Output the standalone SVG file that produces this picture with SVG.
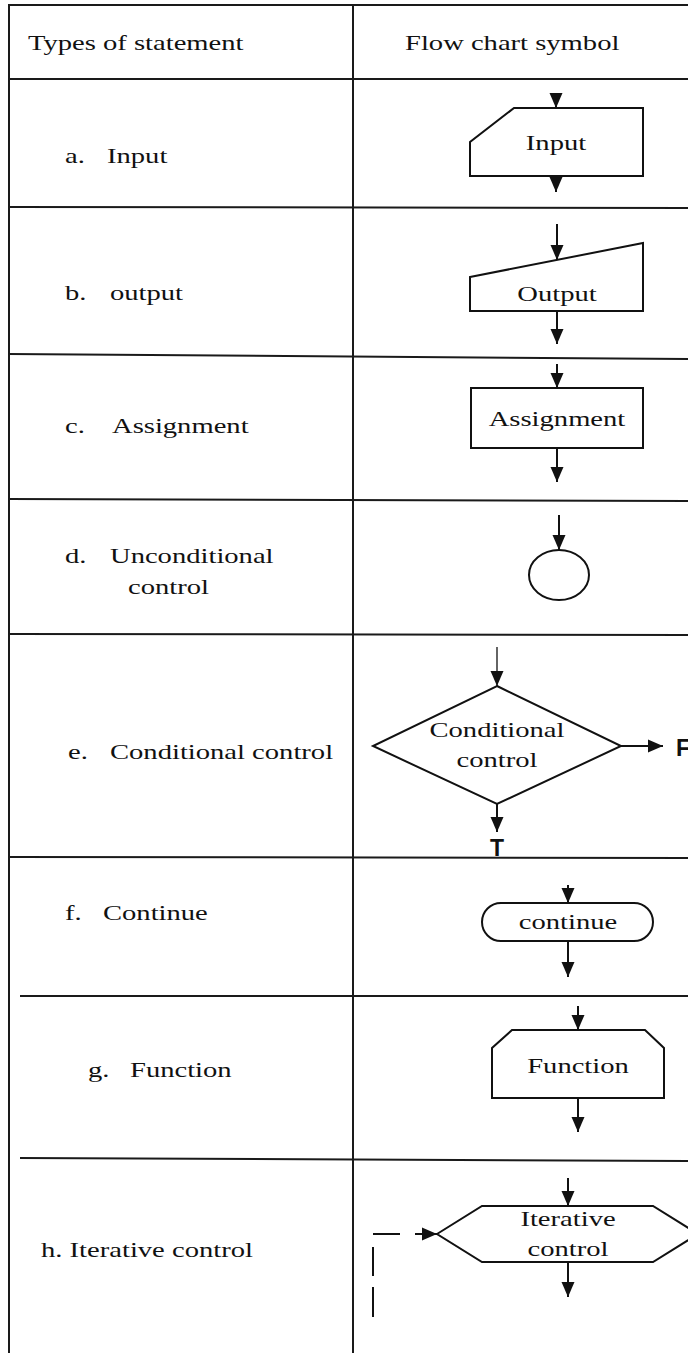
<svg xmlns="http://www.w3.org/2000/svg" width="688" height="1353" viewBox="0 0 688 1353">
  <style>
    .grid { stroke: #1a1a1a; stroke-width: 2; fill: none; }
    .shape { stroke: #111; stroke-width: 2; fill: #fff; }
    .flow { stroke: #111; stroke-width: 2; fill: none; marker-end: url(#head); }
    .thin { stroke: #111; stroke-width: 1.3; fill: none; marker-end: url(#head); }
    .dash { stroke: #111; stroke-width: 2; fill: none; }
    .t { font-family: "Liberation Serif", "Times New Roman", serif; font-size: 22px; fill: #111; }
    .mid { text-anchor: middle; }
    .tf { font-family: "Liberation Sans", Arial, sans-serif; font-weight: bold; font-size: 23px; fill: #111; }
  </style>
  <defs>
    <marker id="head" markerUnits="userSpaceOnUse" markerWidth="15" markerHeight="14" refX="15" refY="7" orient="auto" viewBox="0 0 15 14">
      <path d="M0,0.5 L15,7 L0,13.5 z" fill="#111"/>
    </marker>
  </defs>
  <rect width="688" height="1353" fill="#fff"/>

  <!-- table rules -->
  <g id="table" class="grid">
    <line x1="8" y1="5" x2="688" y2="5"/>
    <line x1="9" y1="4" x2="9" y2="1353"/>
    <line x1="353" y1="4" x2="353" y2="1353"/>
    <line x1="8" y1="79" x2="688" y2="79"/>
    <line x1="8" y1="207" x2="688" y2="208"/>
    <line x1="8" y1="354" x2="688" y2="359"/>
    <line x1="8" y1="499" x2="688" y2="501"/>
    <line x1="8" y1="634" x2="688" y2="635"/>
    <line x1="8" y1="857" x2="688" y2="858"/>
    <line x1="20" y1="996" x2="688" y2="996"/>
    <line x1="20" y1="1158" x2="688" y2="1161"/>
  </g>

  <!-- header and row labels -->
  <g id="labels">
    <text class="t" transform="matrix(1.3 0 0 1 28 50)">Types of statement</text>
    <text class="t" transform="matrix(1.3 0 0 1 405 50)">Flow chart symbol</text>
    <text class="t" transform="matrix(1.3 0 0 1 65 163)">a.</text>
    <text class="t" transform="matrix(1.3 0 0 1 107 163)">Input</text>
    <text class="t" transform="matrix(1.3 0 0 1 65 300)">b.</text>
    <text class="t" transform="matrix(1.3 0 0 1 110 300)">output</text>
    <text class="t" transform="matrix(1.3 0 0 1 65 433)">c.</text>
    <text class="t" transform="matrix(1.3 0 0 1 112 433)">Assignment</text>
    <text class="t" transform="matrix(1.3 0 0 1 65 563)">d.</text>
    <text class="t" transform="matrix(1.3 0 0 1 110 563)">Unconditional</text>
    <text class="t" transform="matrix(1.3 0 0 1 128 594)">control</text>
    <text class="t" transform="matrix(1.3 0 0 1 68 759)">e.</text>
    <text class="t" transform="matrix(1.3 0 0 1 110 759)">Conditional control</text>
    <text class="t" transform="matrix(1.3 0 0 1 65 920)">f.</text>
    <text class="t" transform="matrix(1.3 0 0 1 103 920)">Continue</text>
    <text class="t" transform="matrix(1.3 0 0 1 88 1077)">g.</text>
    <text class="t" transform="matrix(1.3 0 0 1 130 1077)">Function</text>
    <text class="t" transform="matrix(1.3 0 0 1 41 1257)">h. Iterative control</text>
  </g>

  <!-- flow chart symbols -->
  <g id="input">
    <polygon class="shape" points="514,108 643,108 643,176 470,176 470,142"/>
    <text class="t mid" transform="matrix(1.3 0 0 1 556 150)">Input</text>
  </g>
  <g id="output">
    <polygon class="shape" points="470,277 643,243 643,311 470,311"/>
    <text class="t mid" transform="matrix(1.3 0 0 1 557 301)">Output</text>
  </g>
  <g id="assignment">
    <rect class="shape" x="471" y="388" width="172" height="60"/>
    <text class="t mid" transform="matrix(1.3 0 0 1 557 426)">Assignment</text>
  </g>
  <g id="unconditional">
    <ellipse class="shape" cx="559" cy="575" rx="30" ry="25"/>
  </g>
  <g id="conditional">
    <polygon class="shape" points="497,686 621,746 497,804 373,746"/>
    <text class="t mid" transform="matrix(1.3 0 0 1 497 737)">Conditional</text>
    <text class="t mid" transform="matrix(1.3 0 0 1 497 767)">control</text>
  </g>
  <g id="continue">
    <rect class="shape" x="482" y="903" width="171" height="38" rx="19" ry="19"/>
    <text class="t mid" transform="matrix(1.3 0 0 1 568 929)">continue</text>
  </g>
  <g id="function">
    <polygon class="shape" points="512,1030 645,1030 664,1048 664,1098 492,1098 492,1048"/>
    <text class="t mid" transform="matrix(1.3 0 0 1 578 1073)">Function</text>
  </g>
  <g id="iterative">
    <polygon class="shape" points="437,1234 482,1206 653,1206 698,1234 653,1262 482,1262"/>
    <text class="t mid" transform="matrix(1.3 0 0 1 568 1226)">Iterative</text>
    <text class="t mid" transform="matrix(1.3 0 0 1 568 1256)">control</text>
  </g>

  <!-- connectors -->
  <g id="connectors">
    <line class="flow" x1="556" y1="94" x2="556" y2="108"/>
    <line class="flow" x1="556" y1="176" x2="556" y2="192"/>
    <line class="flow" x1="557" y1="224" x2="557" y2="260"/>
    <line class="flow" x1="557" y1="311" x2="557" y2="344"/>
    <line class="flow" x1="557" y1="364" x2="557" y2="388"/>
    <line class="flow" x1="557" y1="448" x2="557" y2="482"/>
    <line class="flow" x1="559" y1="515" x2="559" y2="550"/>
    <line class="thin" x1="497" y1="647" x2="497" y2="686"/>
    <line class="flow" x1="621" y1="746" x2="663" y2="746"/>
    <line class="flow" x1="497" y1="804" x2="497" y2="832"/>
    <line class="flow" x1="568" y1="885" x2="568" y2="903"/>
    <line class="flow" x1="568" y1="941" x2="568" y2="977"/>
    <line class="flow" x1="578" y1="1006" x2="578" y2="1030"/>
    <line class="flow" x1="578" y1="1098" x2="578" y2="1132"/>
    <line class="flow" x1="568" y1="1178" x2="568" y2="1206"/>
    <line class="flow" x1="568" y1="1262" x2="568" y2="1297"/>
    <line class="dash" x1="373" y1="1234" x2="400" y2="1234"/>
    <line class="flow" x1="415" y1="1234" x2="437" y2="1234"/>
    <line class="dash" x1="373" y1="1247" x2="373" y2="1276"/>
    <line class="dash" x1="373" y1="1287" x2="373" y2="1317"/>
    <text class="tf" x="676" y="756">F</text>
    <text class="tf" x="497" y="856" text-anchor="middle">T</text>
  </g>
</svg>
